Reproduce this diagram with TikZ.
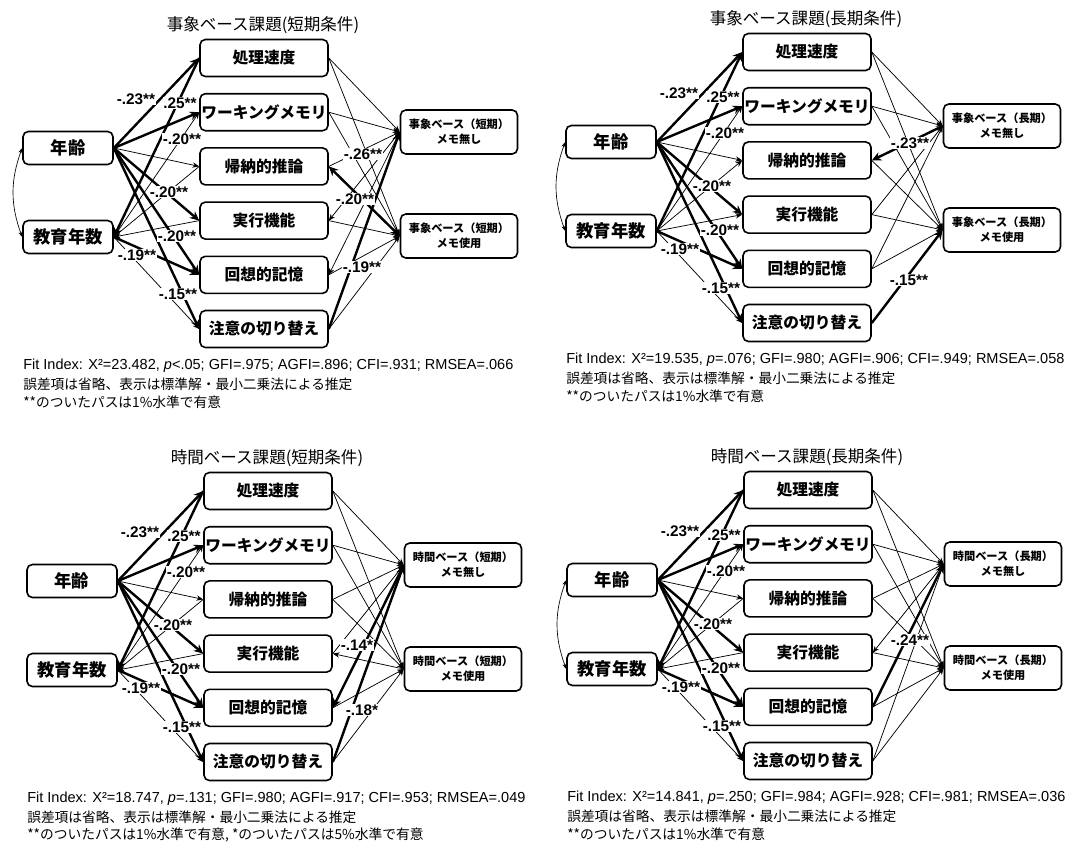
\documentclass[tikz,border=0pt]{standalone}
\usepackage{fontspec}
\setmainfont{Liberation Sans}
\newfontfamily\jp{Noto Sans CJK JP}
\usetikzlibrary{arrows.meta}

\tikzset{
  box/.style={draw, line width=1.2pt, rounded corners=4pt, inner sep=1pt},
  factor/.style={box, minimum width=96pt, minimum height=27.75pt, font=\jp\bfseries\fontsize{11.8}{14}\selectfont},
  person/.style={box, minimum width=67.5pt, minimum height=24.75pt, font=\jp\bfseries\fontsize{13}{15}\selectfont},
  outcome/.style={box, minimum width=87.75pt, minimum height=33pt, align=center, font=\jp\bfseries\fontsize{8.4}{11.2}\selectfont},
  title/.style={font=\jp\fontsize{12.4}{14}\selectfont},
  coef/.style={fill=white, inner sep=0.6pt, font=\bfseries\fontsize{11.5}{13}\selectfont},
  fitline/.style={anchor=west, inner sep=0pt, font=\fontsize{10.9}{13}\selectfont},
  note/.style={anchor=west, inner sep=0pt, font=\jp\fontsize{10.3}{13}\selectfont},
  thinpath/.style={line width=0.55pt, -{Stealth[length=5pt, width=4pt]}},
  thinback/.style={line width=0.55pt, {Stealth[length=5pt, width=4pt]}-},
  sigpath/.style={line width=1.8pt, -{Stealth[length=7pt, width=6.5pt]}},
  sigback/.style={line width=1.8pt, {Stealth[length=7pt, width=6.5pt]}-},
  sigboth/.style={line width=1.8pt, {Stealth[length=7pt, width=6.5pt]}-{Stealth[length=7pt, width=6.5pt]}},
  corr/.style={line width=0.5pt, {Stealth[length=4pt, width=3pt]}-{Stealth[length=4pt, width=3pt]}, bend right=20}
}

\begin{document}
\begin{tikzpicture}[x=0.75pt, y=-0.75pt]
    \useasboundingbox (0,0) rectangle (1086,844);

    % Four path models, one per task and condition
    \foreach \p/\dx/\dy/\kind/\term/\fit/\sig/\ba/\bs in {
        A/-4/-11/事象/短期/{X²=23.482, \textit{p}<.05; GFI=.975; AGFI=.896; CFI=.931; RMSEA=.066}/{}/thinback/sigback,
        B/539/-17/事象/長期/{X²=19.535, \textit{p}=.076; GFI=.980; AGFI=.906; CFI=.949; RMSEA=.058}/{}/thinpath/sigpath,
        C/0/422/時間/短期/{X²=18.747, \textit{p}=.131; GFI=.980; AGFI=.917; CFI=.953; RMSEA=.049}/{, *のついたパスは5\%水準で有意}/thinback/sigback,
        D/540/421/時間/長期/{X²=14.841, \textit{p}=.250; GFI=.984; AGFI=.928; CFI=.981; RMSEA=.036}/{}/thinback/sigback}{
      \begin{scope}[shift={(\dx,\dy)}]
        \node[title] (\p-title) at (267,36) {\kind ベース課題(\term 条件)};

        % Predictors and cognitive factors
        \node[person] (\p-age) at (72,159) {年齢};
        \node[person] (\p-edu) at (72,248) {教育年数};
        \foreach[count=\i] \lab in {処理速度,ワーキングメモリ,帰納的推論,実行機能,回想的記憶,注意の切り替え}{
            \node[factor] (\p-m\i) at (268,{69+54.2*(\i-1)}) {\lab};
        }
        \node[outcome] (\p-o1) at (463,143) {\kind ベース（\term）\\メモ無し};
        \node[outcome] (\p-o2) at (463,247) {\kind ベース（\term）\\メモ使用};

        % Paths from age and education
        \foreach \i in {1,2,4,5,6}{
            \draw[sigpath] (\p-age.east) -- (\p-m\i.west);
        }
        \draw[thinpath] (\p-age.east) -- (\p-m3.west);
        \draw[\bs] (\p-edu.east) -- (\p-m1.west);
        \draw[thinpath] (\p-edu.east) -- (\p-m2.west);
        \foreach \i in {3,4}{
            \draw[\ba] (\p-edu.east) -- (\p-m\i.west);
        }
        \draw[sigpath] (\p-edu.east) -- (\p-m5.west);
        \draw[thinpath] (\p-edu.east) -- (\p-m6.west);

        % Coefficients on the left
        \node[coef] (\p-c1) at (140,110) {-.23**};
        \node[coef] (\p-c2) at (184,114) {.25**};
        \node[coef] (\p-c3) at (186,150) {-.20**};
        \node[coef] (\p-c4) at (173,203) {-.20**};
        \node[coef] (\p-c5) at (181,247) {-.20**};
        \node[coef] (\p-c6) at (141,266) {-.19**};
        \node[coef] (\p-c7) at (182,305) {-.15**};

        % Fit indices and notes
        \node[fitline] (\p-fit) at (27,377) {Fit Index: \fit};
        \node[note] (\p-note1) at (27,395) {誤差項は省略、表示は標準解・最小二乗法による推定};
        \node[note] (\p-note2) at (27,413) {**のついたパスは1\%水準で有意\sig};
      \end{scope}
    }

    % Correlation between age and education
    \foreach \p in {A,B,D}{
        \draw[corr] (\p-age.west) to (\p-edu.west);
    }

    % Event-based, short term
    \foreach \m/\o in {1/1,2/1,3/1,1/2,2/2,4/2,5/2,6/2}{
        \draw[thinpath] (A-m\m.east) -- (A-o\o.west);
    }
    \foreach \m in {4,5}{
        \draw[thinback] (A-m\m.east) -- (A-o1.west);
    }
    \draw[sigpath] (A-m6.east) -- (A-o1.west);
    \draw[sigboth] (A-m3.east) -- (A-o2.west);
    \node[coef] (A-r1) at (363,154) {-.26**};
    \node[coef] (A-r2) at (355,199) {-.20**};
    \node[coef] (A-r3) at (362,267) {-.19**};

    % Event-based, long term
    \foreach \m/\o in {1/1,2/1,4/1,5/1,1/2,2/2,3/2,4/2,5/2}{
        \draw[thinpath] (B-m\m.east) -- (B-o\o.west);
    }
    \draw[sigback] (B-m3.east) -- (B-o1.west);
    \draw[sigpath] (B-m6.east) -- (B-o2.west);
    \node[coef] (B-r1) at (910,143) {-.23**};
    \node[coef] (B-r2) at (909,280) {-.15**};

    % Time-based, short term
    \foreach \m/\o in {1/1,2/1,3/1,4/1,1/2,2/2,3/2,5/2,6/2}{
        \draw[thinpath] (C-m\m.east) -- (C-o\o.west);
    }
    \draw[thinback] (C-m4.east) -- (C-o2.west);
    \draw[sigback] (C-m5.east) -- (C-o1.west);
    \draw[sigpath] (C-m6.east) -- (C-o1.west);
    \node[coef] (C-r1) at (357,645) {-.14*};
    \node[coef] (C-r2) at (362,710) {-.18*};

    % Time-based, long term
    \foreach \m/\o in {1/1,2/1,3/1,6/1,1/2,2/2,3/2,4/2,5/2,6/2}{
        \draw[thinpath] (D-m\m.east) -- (D-o\o.west);
    }
    \draw[thinback] (D-m4.east) -- (D-o1.west);
    \draw[sigpath] (D-m5.east) -- (D-o1.west);
    \node[coef] (D-r1) at (910,640) {-.24**};
\end{tikzpicture}
\end{document}
